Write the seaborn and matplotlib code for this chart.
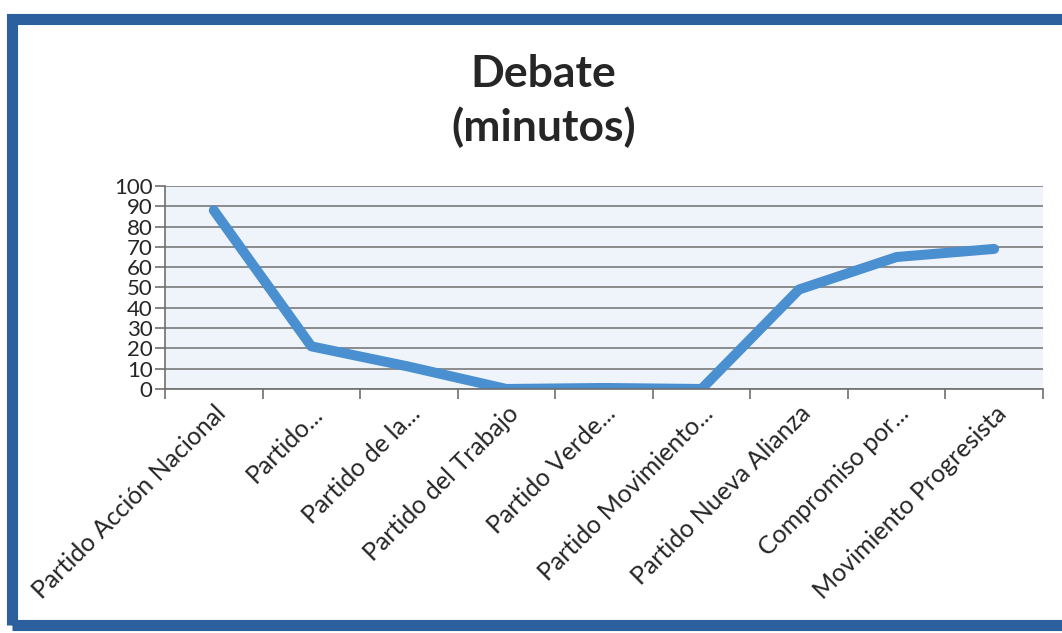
"""Debate (minutos) line chart."""

import matplotlib

matplotlib.use("Agg")
import matplotlib.pyplot as plt  # noqa: E402
import pandas as pd
import seaborn as sns
from matplotlib.patches import Rectangle
from matplotlib.ticker import FixedLocator, MultipleLocator

partidos = [
    "Partido Acción Nacional",
    "Partido...",
    "Partido de la...",
    "Partido del Trabajo",
    "Partido Verde...",
    "Partido Movimiento...",
    "Partido Nueva Alianza",
    "Compromiso por...",
    "Movimiento Progresista",
]
minutos = [88, 21, 11, 0, 0.5, 0, 49, 65, 69]

df = pd.DataFrame({"partido": partidos, "minutos": minutos})

sns.set_theme(style="white")
plt.rcParams["font.family"] = ["Lato", "DejaVu Sans"]

fig = plt.figure(figsize=(10.62, 6.33), dpi=100)
ax = fig.add_axes([0.1554, 0.3855, 0.8266, 0.3207])
ax.set_facecolor("#eef4fa")

sns.lineplot(
    data=df, x="partido", y="minutos", ax=ax, color="#4a8fd0",
    linewidth=7.2, solid_capstyle="round", sort=False,
)

ax.set_xlim(-0.5, len(partidos) - 0.5)
ax.set_ylim(0, 100)
ax.yaxis.set_major_locator(MultipleLocator(10))
ax.grid(axis="y", color="#6f6f6f", linewidth=1.1)
ax.set_axisbelow(True)

ax.set_xticks(range(len(partidos)))
ax.set_xticklabels(partidos, rotation=45, ha="right", rotation_mode="anchor", fontsize=18)
ax.xaxis.set_minor_locator(FixedLocator([i - 0.5 for i in range(len(partidos) + 1)]))
ax.tick_params(axis="x", which="major", length=0, pad=9)
ax.tick_params(axis="x", which="minor", length=7, width=1.2, color="#6f6f6f", direction="out", bottom=True)
ax.tick_params(axis="y", length=7, width=1.2, color="#6f6f6f", direction="out", left=True,
               labelsize=16, pad=2)

for side in ["top", "right"]:
    ax.spines[side].set_visible(False)
ax.spines["left"].set_color("#6f6f6f")
ax.spines["bottom"].set_color("#6f6f6f")
ax.spines["left"].set_linewidth(1.2)
ax.spines["bottom"].set_linewidth(1.2)
ax.set_xlabel("")
ax.set_ylabel("")

fig.text(0.512, 0.84, "Debate\n(minutos)", ha="center", va="center",
         fontsize=32, fontweight="bold", linespacing=1.35)

fig.patches.append(Rectangle((0.011, 0.012), 1.1, 0.958, transform=fig.transFigure,
                             fill=False, edgecolor="#2c5f9e", linewidth=8, zorder=10))

fig.savefig("out.png", dpi=100)
